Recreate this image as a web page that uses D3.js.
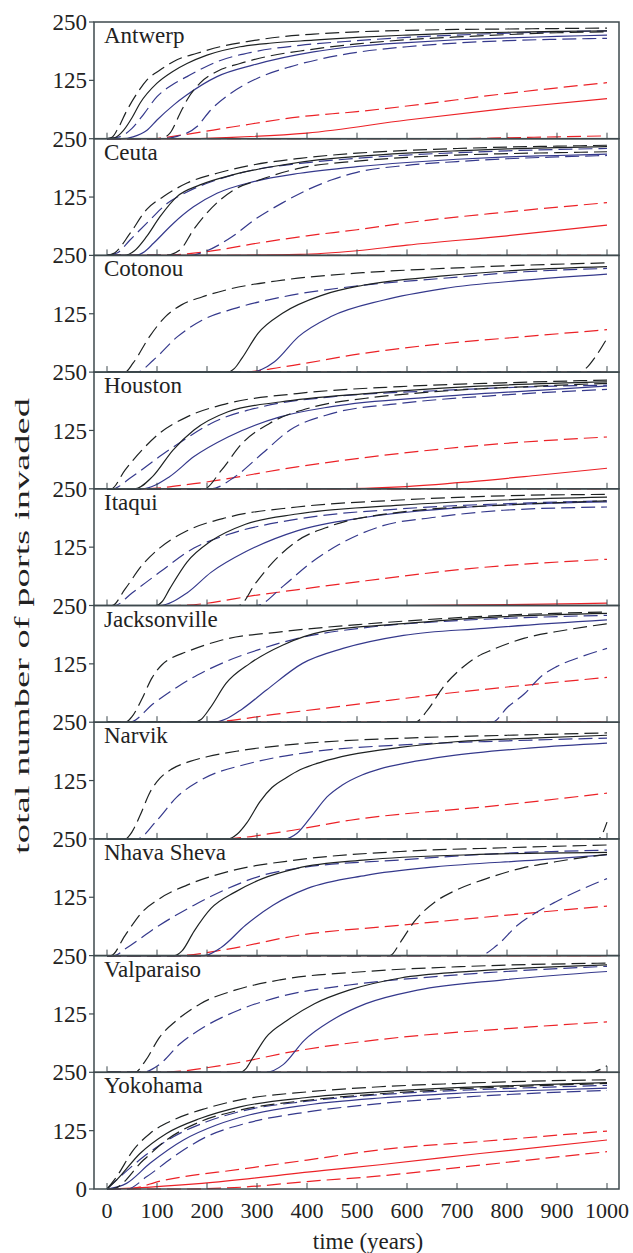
<!DOCTYPE html>
<html>
<head>
<meta charset="utf-8">
<script src="https://cdn.jsdelivr.net/npm/d3@7"></script>
<style>
  body { margin: 0; background: #fff; }
  svg { display: block; }
  text { font-family: 'Liberation Serif', 'Times New Roman', serif; fill: #222; }
</style>
</head>
<body>
<svg id="chart"></svg>
<script>
// ports, top to bottom
const ports = ['Antwerp', 'Ceuta', 'Cotonou', 'Houston', 'Itaqui', 'Jacksonville', 'Narvik', 'Nhava Sheva', 'Valparaiso', 'Yokohama'];
const xTicks = [0, 100, 200, 300, 400, 500, 600, 700, 800, 900, 1000];
const yTicks = [0, 125, 250];

// each entry: [year, ports invaded], one list per port (same order as ports)
const blackHi = [
  [[0,0],[10,3],[20,18],[40,61],[60,97],[80,126],[106,147],[140,169],[180,183],[226,197],[280,208],[346,218],[413,224],[500,229],[600,232],[700,234],[800,235],[900,236],[1000,237]],
  [[0,0],[15,5],[46,47],[79,98],[113,126],[160,155],[220,176],[293,194],[386,208],[500,219],[600,225],[700,229],[800,232],[900,234],[1000,236]],
  [[0,0],[36,0],[52,19],[85,76],[117,119],[149,144],[190,161],[238,176],[351,197],[512,213],[673,222],[835,229],[1000,234]],
  [[0,0],[8,0],[36,40],[70,83],[105,119],[160,154],[242,183],[380,204],[587,219],[793,227],[1000,233]],
  [[0,0],[10,0],[36,35],[70,86],[105,123],[160,160],[242,189],[380,211],[587,226],[793,235],[1000,238]],
  [[0,0],[36,0],[50,12],[69,48],[90,95],[109,122],[130,138],[157,150],[230,176],[351,194],[512,210],[673,222],[835,231],[1000,236]],
  [[0,0],[36,0],[50,15],[66,50],[86,100],[106,130],[130,150],[166,166],[200,176],[266,189],[400,205],[600,216],[800,222],[1000,227]],
  [[0,0],[8,0],[36,43],[70,93],[105,122],[160,151],[242,180],[380,205],[587,223],[793,231],[1000,237]],
  [[0,0],[56,0],[77,25],[105,75],[139,111],[187,147],[256,176],[346,198],[518,216],[725,227],[1000,234]],
  [[0,0],[19,26],[53,84],[86,119],[133,148],[199,173],[266,191],[400,208],[546,219],[700,226],[850,231],[1000,234]]
];
const blackMid = [
  [[0,0],[15,2],[33,18],[50,45],[66,76],[100,119],[130,143],[160,161],[200,179],[266,197],[330,205],[413,211],[500,217],[600,222],[700,226],[800,228],[900,230],[1000,231]],
  [[0,0],[35,0],[55,10],[79,40],[106,83],[140,126],[186,151],[253,173],[353,194],[426,205],[500,212],[600,219],[700,224],[800,228],[900,231],[1000,233]],
  [[0,0],[240,0],[255,8],[270,30],[302,83],[351,126],[431,165],[512,186],[673,206],[835,219],[1000,226]],
  [[0,0],[56,0],[91,26],[132,83],[174,126],[242,165],[346,186],[518,204],[725,219],[1000,229]],
  [[0,0],[98,0],[110,8],[125,35],[160,93],[208,138],[277,174],[380,196],[587,215],[793,226],[1000,232]],
  [[0,0],[173,0],[188,6],[206,30],[238,83],[286,126],[351,165],[431,194],[593,211],[754,224],[1000,233]],
  [[0,0],[242,0],[260,10],[280,35],[306,80],[330,110],[360,132],[386,148],[430,165],[486,180],[586,196],[686,207],[850,216],[1000,222]],
  [[0,0],[135,0],[150,10],[174,52],[208,101],[256,136],[311,165],[380,187],[518,205],[725,216],[1000,221]],
  [[0,0],[265,0],[278,8],[291,30],[318,75],[360,111],[415,147],[484,176],[587,202],[725,216],[1000,230]],
  [[0,0],[19,19],[66,76],[119,119],[186,151],[266,176],[400,196],[546,208],[700,217],[850,223],[1000,228]]
];
const blackLo = [
  [[0,0],[100,0],[115,3],[126,12],[146,54],[160,83],[186,119],[220,144],[266,161],[320,176],[400,190],[500,203],[600,212],[700,218],[800,223],[900,227],[1000,229]],
  [[0,0],[115,0],[146,12],[173,55],[200,91],[253,140],[306,162],[386,187],[500,202],[600,210],[700,215],[800,218],[900,220],[1000,222]],
  [[0,0],[944,0],[960,10],[975,30],[1000,72]],
  [[0,0],[194,0],[229,40],[270,97],[325,140],[415,176],[518,194],[656,208],[862,220],[1000,226]],
  [[0,0],[263,0],[298,49],[332,93],[380,138],[449,171],[587,200],[793,215],[1000,224]],
  [[0,0],[617,0],[641,26],[673,76],[714,120],[740,140],[770,155],[835,180],[915,197],[1000,211]],
  [[0,0],[982,0],[1000,36]],
  [[0,0],[566,0],[587,29],[614,72],[656,115],[690,136],[759,165],[828,187],[897,201],[1000,217]],
  [[0,0],[966,0],[1000,14]],
  [[0,0],[10,0],[73,62],[119,105],[186,144],[266,169],[400,190],[546,204],[700,214],[850,221],[1000,226]]
];
const blueHi = [
  [[0,0],[25,4],[50,22],[75,55],[100,90],[130,115],[160,133],[220,165],[293,186],[386,200],[500,210],[600,217],[700,222],[800,226],[900,229],[1000,231]],
  [[0,0],[20,5],[46,33],[86,76],[120,111],[160,136],[220,162],[293,183],[386,197],[500,208],[600,215],[700,220],[800,224],[900,227],[1000,229]],
  [[0,0],[60,0],[93,26],[141,76],[190,111],[254,136],[351,161],[512,186],[673,201],[835,215],[1000,222]],
  [[0,0],[10,0],[50,26],[105,69],[153,104],[208,140],[311,176],[449,197],[656,210],[862,219],[1000,222]],
  [[0,0],[15,0],[50,27],[105,71],[174,123],[242,152],[380,185],[587,207],[793,218],[1000,224]],
  [[0,0],[45,0],[93,40],[140,75],[181,101],[238,130],[302,155],[391,182],[512,202],[673,216],[835,224],[1000,229]],
  [[0,0],[60,0],[100,40],[140,90],[186,125],[286,162],[400,185],[600,202],[800,210],[1000,216]],
  [[0,0],[15,0],[36,14],[105,65],[174,108],[242,144],[311,172],[380,187],[587,205],[793,219],[1000,226]],
  [[0,0],[70,0],[105,17],[146,61],[194,97],[263,133],[346,162],[484,187],[656,205],[862,220],[1000,227]],
  [[0,0],[26,26],[73,69],[133,112],[199,144],[266,166],[400,188],[546,202],[700,211],[850,217],[1000,222]]
];
const blueMid = [
  [[0,0],[30,0],[52,4],[80,18],[100,40],[133,72],[160,94],[220,133],[293,158],[413,186],[500,198],[600,206],[700,212],[800,216],[900,219],[1000,222]],
  [[0,0],[55,0],[75,8],[93,26],[133,69],[173,104],[220,133],[293,158],[386,176],[500,190],[600,199],[700,206],[800,211],[900,214],[1000,217]],
  [[0,0],[290,0],[310,6],[335,22],[383,76],[448,119],[552,154],[673,179],[835,197],[1000,210]],
  [[0,0],[70,0],[125,26],[174,69],[242,111],[346,154],[449,176],[656,197],[862,211],[1000,220]],
  [[0,0],[105,0],[160,27],[208,71],[277,115],[380,160],[518,189],[725,211],[1000,222]],
  [[0,0],[214,0],[240,8],[270,28],[319,69],[391,126],[472,158],[593,186],[754,201],[1000,219]],
  [[0,0],[356,0],[380,12],[410,50],[440,90],[470,115],[510,137],[546,150],[600,163],[686,178],[850,195],[1000,205]],
  [[0,0],[194,0],[229,18],[277,65],[332,108],[401,144],[518,172],[656,190],[862,205],[1000,216]],
  [[0,0],[318,0],[353,17],[394,68],[449,111],[518,147],[621,176],[793,198],[1000,216]],
  [[0,0],[39,12],[86,55],[153,105],[219,137],[286,159],[400,180],[546,195],[700,205],[850,211],[1000,216]]
];
const blueLo = [
  [[0,0],[110,0],[140,5],[180,26],[207,61],[247,97],[300,129],[366,154],[433,172],[500,185],[600,197],[700,205],[800,210],[900,213],[1000,215]],
  [[0,0],[165,0],[200,10],[250,40],[300,80],[350,112],[400,140],[450,162],[500,178],[600,193],[700,201],[800,207],[900,211],[1000,214]],
  [[0,0],[1000,0]],
  [[0,0],[208,0],[256,26],[311,76],[366,126],[449,161],[587,183],[793,201],[1000,213]],
  [[0,0],[298,0],[353,42],[401,86],[463,130],[552,171],[656,189],[793,204],[1000,211]],
  [[0,0],[770,0],[802,33],[835,61],[867,97],[899,119],[948,140],[1000,158]],
  [[0,0],[1000,0]],
  [[0,0],[745,0],[780,22],[821,65],[855,90],[897,115],[945,140],[1000,165]],
  [[0,0],[1000,0]],
  [[0,0],[40,0],[79,26],[133,69],[199,112],[279,141],[400,165],[546,183],[700,196],[850,205],[1000,211]]
];
const redHi = [
  [[0,0],[90,0],[150,8],[250,25],[386,47],[500,58],[600,70],[800,97],[1000,120]],
  [[0,0],[100,0],[200,8],[300,26],[400,42],[500,55],[600,70],[800,93],[1000,113]],
  [[0,0],[270,0],[351,11],[512,40],[673,61],[835,76],[1000,91]],
  [[0,0],[70,0],[174,11],[380,47],[587,76],[793,97],[1000,111]],
  [[0,0],[140,0],[311,24],[518,53],[725,79],[1000,99]],
  [[0,0],[190,0],[351,19],[512,40],[673,61],[835,79],[1000,96]],
  [[0,0],[226,0],[350,15],[486,40],[786,72],[1000,98]],
  [[0,0],[139,0],[242,14],[380,43],[587,65],[793,86],[1000,106]],
  [[0,0],[105,0],[242,17],[380,46],[587,75],[793,93],[1000,108]],
  [[0,0],[40,0],[110,18],[272,43],[400,62],[546,84],[750,102],[1000,124]]
];
const redMid = [
  [[0,0],[150,0],[250,3],[400,12],[600,40],[800,65],[1000,86]],
  [[0,0],[200,0],[386,2],[500,10],[600,22],[800,42],[1000,65]],
  [[0,0],[1000,0]],
  [[0,0],[449,0],[587,4],[725,15],[862,29],[1000,44]],
  [[0,0],[600,0],[800,2],[1000,5]],
  [[0,0],[1000,0]],
  [[0,0],[1000,0]],
  [[0,0],[1000,0]],
  [[0,0],[1000,0]],
  [[0,0],[50,2],[190,12],[434,40],[546,52],[746,76],[1000,105]]
];
const redLo = [
  [[0,0],[700,0],[800,2],[900,4],[1000,6]],
  [[0,0],[1000,0]],
  [[0,0],[1000,0]],
  [[0,0],[1000,0]],
  [[0,0],[1000,0]],
  [[0,0],[1000,0]],
  [[0,0],[1000,0]],
  [[0,0],[1000,0]],
  [[0,0],[1000,0]],
  [[0,0],[150,0],[272,4],[400,16],[546,28],[746,51],[1000,80]]
];

const width = 633, height = 1253;
const frameL = 94, frameR = 619, plotTop = 22, panelH = 116.7;
const frameColor = '#3e4a4e';

const black = '#1e2222', blue = '#35398c', red = '#ec2227';
const series = [
  { rows: redLo, color: red, dash: true },
  { rows: redHi, color: red, dash: true },
  { rows: redMid, color: red, dash: false },
  { rows: blueLo, color: blue, dash: true },
  { rows: blueHi, color: blue, dash: true },
  { rows: blueMid, color: blue, dash: false },
  { rows: blackLo, color: black, dash: true },
  { rows: blackHi, color: black, dash: true },
  { rows: blackMid, color: black, dash: false }
];

const svg = d3.select('#chart')
  .attr('width', width)
  .attr('height', height);

const x = d3.scaleLinear().domain([0, 1000]).range([107, 607]);

ports.forEach((name, i) => {
  const y0 = plotTop + i * panelH;
  const y = d3.scaleLinear().domain([0, 250]).range([y0 + panelH, y0]);
  const g = svg.append('g').attr('class', 'panel');

  const line = d3.line()
    .x(d => x(d[0]))
    .y(d => y(d[1]))
    .curve(d3.curveMonotoneX);

  series.forEach(s => {
    g.append('path')
      .datum(s.rows[i])
      .attr('fill', 'none')
      .attr('stroke', s.color)
      .attr('stroke-width', 1.2)
      .attr('stroke-dasharray', s.dash ? '14,6' : null)
      .attr('d', line);
  });

  // x ticks point up from the bottom of each panel
  g.selectAll('line.xt')
    .data(xTicks)
    .enter()
    .append('line')
    .attr('class', 'xt')
    .attr('x1', d => x(d)).attr('x2', d => x(d))
    .attr('y1', y(0)).attr('y2', y(0) - 6)
    .attr('stroke', frameColor)
    .attr('stroke-width', 1);

  // y ticks + labels (0 only on the last panel)
  const yt = i === ports.length - 1 ? yTicks : yTicks.slice(1);
  g.selectAll('line.yt')
    .data(yt)
    .enter()
    .append('line')
    .attr('class', 'yt')
    .attr('x1', frameL - 5).attr('x2', frameL)
    .attr('y1', d => y(d)).attr('y2', d => y(d))
    .attr('stroke', frameColor)
    .attr('stroke-width', 1.2);

  g.selectAll('text.yl')
    .data(yt)
    .enter()
    .append('text')
    .attr('class', 'yl')
    .attr('x', 87)
    .attr('y', d => y(d))
    .attr('dy', '0.35em')
    .attr('text-anchor', 'end')
    .style('font-size', '23px')
    .text(d => d);

  g.append('rect')
    .attr('x', frameL).attr('y', y0)
    .attr('width', frameR - frameL).attr('height', panelH)
    .attr('fill', 'none')
    .attr('stroke', frameColor)
    .attr('stroke-width', 1.5);

  g.append('text')
    .attr('x', 104)
    .attr('y', y0 + 21)
    .style('font-size', '23px')
    .text(name);
});

// bottom axis labels
svg.selectAll('text.xl')
  .data(xTicks)
  .enter()
  .append('text')
  .attr('class', 'xl')
  .attr('x', d => x(d))
  .attr('y', 1218)
  .attr('text-anchor', 'middle')
  .style('font-size', '22px')
  .text(d => d);

svg.append('text')
  .attr('x', 368)
  .attr('y', 1249)
  .attr('text-anchor', 'middle')
  .style('font-size', '23px')
  .text('time (years)');

svg.append('text')
  .attr('transform', 'translate(29,' + 626 + ') rotate(-90)')
  .attr('text-anchor', 'middle')
  .style('font-size', '22px')
  .attr('textLength', 456)
  .attr('lengthAdjust', 'spacingAndGlyphs')
  .text('total number of  ports invaded');
</script>
</body>
</html>
